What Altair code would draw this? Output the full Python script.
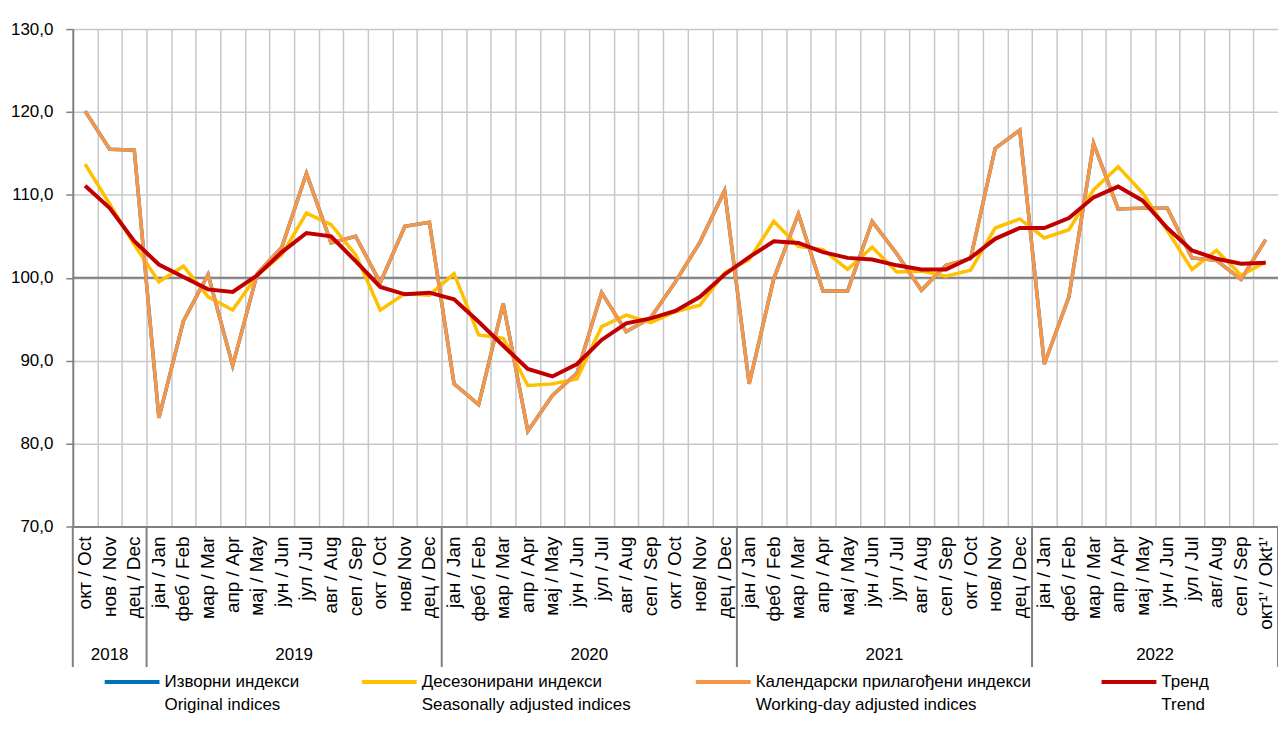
import altair as alt
import pandas as pd

# ---------------- data ----------------
months = [
    "окт / Oct", "нов / Nov", "дец / Dec",
    "јан / Jan", "феб / Feb", "мар / Mar", "апр / Apr", "мај / May", "јун / Jun",
    "јул / Jul", "авг / Aug", "сеп / Sep", "окт / Oct", "нов/ Nov", "дец / Dec",
    "јан / Jan", "феб / Feb", "мар / Mar", "апр / Apr", "мај / May", "јун / Jun",
    "јул / Jul", "авг / Aug", "сеп / Sep", "окт / Oct", "нов/ Nov", "дец / Dec",
    "јан / Jan", "феб / Feb", "мар / Mar", "апр / Apr", "мај / May", "јун / Jun",
    "јул / Jul", "авг / Aug", "сеп / Sep", "окт / Oct", "нов/ Nov", "дец / Dec",
    "јан / Jan", "феб / Feb", "мар / Mar", "апр / Apr", "мај / May", "јун / Jun",
    "јул / Jul", "авг/ Aug", "сеп / Sep", "окт¹’ / Okt¹’",
]
years = ["2018", "2019", "2020", "2021", "2022"]
year_months = [3, 12, 12, 12, 10]

working = [120.1, 115.5, 115.4, 83.1, 94.8, 100.4, 89.4, 100.5, 103.7, 112.6, 104.2, 105.0,
           99.4, 106.2, 106.7, 87.2, 84.7, 96.9, 81.5, 85.8, 88.5, 98.2, 93.5, 95.2,
           99.5, 104.3, 110.5, 87.2, 99.9, 107.7, 98.4, 98.4, 106.8, 102.9, 98.5, 101.5,
           102.3, 115.6, 117.8, 89.6, 97.7, 116.2, 108.3, 108.4, 108.4, 102.4, 102.1, 99.8,
           104.6]
original = list(working)
seasonal = [113.7, 108.9, 104.0, 99.5, 101.4, 97.7, 96.1, 100.3, 102.8, 107.8, 106.4, 102.8,
            96.1, 98.1, 97.9, 100.5, 93.1, 92.7, 87.0, 87.2, 87.8, 94.1, 95.5, 94.6,
            95.9, 96.7, 100.6, 102.2, 106.8, 103.8, 103.4, 101.0, 103.7, 100.7, 100.8, 100.2,
            100.9, 106.0, 107.1, 104.8, 105.8, 110.6, 113.4, 110.2, 105.7, 101.0, 103.3, 100.3,
            101.9]
trend = [111.1, 108.4, 104.4, 101.6, 100.1, 98.6, 98.3, 100.3, 103.1, 105.4, 105.0, 102.0,
         98.9, 98.0, 98.2, 97.4, 94.7, 91.8, 89.0, 88.1, 89.6, 92.5, 94.5, 95.1,
         96.0, 97.7, 100.4, 102.5, 104.4, 104.2, 103.1, 102.4, 102.2, 101.5, 101.0, 101.0,
         102.4, 104.7, 106.0, 106.0, 107.2, 109.7, 111.0, 109.3, 106.0, 103.3, 102.3, 101.7,
         101.8]

series_sr = ["Изворни индекси", "Десезонирани индекси", "Календарски прилагођени индекси", "Тренд"]
series_en = ["Original indices", "Seasonally adjusted indices", "Working-day adjusted indices", "Trend"]
series_vals = [original, seasonal, working, trend]
colors = ["#0070C0", "#FFC000", "#F79646", "#C00000"]
widths = [3.5, 3.5, 3.5, 4]

# ---------------- layout ----------------
FONT = "Liberation Sans, Arial, sans-serif"
FS = 17
W, H = 1209, 499
n = len(months)
idx = list(range(n))

xscale = alt.Scale(domain=[-0.5, n - 0.5], nice=False, zero=False)
yscale = alt.Scale(domain=[70, 130], nice=False, zero=False)

x_axis = alt.Axis(values=[i + 0.5 for i in range(n - 1)], grid=True, gridColor="#C8C8C8",
                  gridWidth=1.5, labels=False, ticks=False, title=None,
                  domainColor="#808080", domainWidth=2)
y_axis = alt.Axis(values=[70, 80, 90, 100, 110, 120, 130], grid=True, gridColor="#C8C8C8",
                  gridWidth=1.5, title=None, tickSize=7, tickColor="#808080", tickWidth=1.5,
                  labelPadding=13, labelFont=FONT, labelFontSize=FS, labelColor="black",
                  labelExpr="replace(format(datum.value, '.1f'), '.', ',')",
                  domainColor="#808080", domainWidth=2)

layers = []

# reference line at 100
ref_df = pd.DataFrame({"ref": [100]})
layers.append(alt.Chart(ref_df).mark_rule(color="#7F7F7F", strokeWidth=2).encode(
    y=alt.Y("ref:Q", scale=yscale, axis=y_axis)))

# series lines
for name, vals, col, w in zip(series_sr, series_vals, colors, widths):
    df = pd.DataFrame({"i": idx, "v": vals, "s": name})
    layers.append(alt.Chart(df).mark_line(color=col, strokeWidth=w).encode(
        x=alt.X("i:Q", scale=xscale, axis=x_axis),
        y=alt.Y("v:Q", scale=yscale, axis=y_axis)))

# month labels
mdf = pd.DataFrame({"i": idx, "label": months})
layers.append(alt.Chart(mdf).mark_text(angle=270, align="right", baseline="middle",
                                       font=FONT, fontSize=19, color="black").encode(
    x=alt.X("i:Q", scale=xscale, axis=x_axis),
    y=alt.value(H + 10), text="label:N"))

# year separators and labels
bounds = [-0.5]
centers = []
for m in year_months:
    start = bounds[-1]
    bounds.append(start + m)
    centers.append(start + m / 2)
bdf = pd.DataFrame({"b": bounds})
layers.append(alt.Chart(bdf).mark_rule(color="#808080", strokeWidth=2).encode(
    x=alt.X("b:Q", scale=xscale, axis=x_axis), y=alt.value(H), y2=alt.value(640)))
ydf = pd.DataFrame({"c": centers, "year": years})
layers.append(alt.Chart(ydf).mark_text(font=FONT, fontSize=FS, color="black", baseline="middle").encode(
    x=alt.X("c:Q", scale=xscale, axis=x_axis), y=alt.value(628), text="year:N"))

# legend (custom)
leg_x = [32, 290, 625, 1032]
row1, row2 = 655, 678
for k in range(4):
    ldf = pd.DataFrame({"s": [series_sr[k]], "e": [series_en[k]]})
    base = alt.Chart(ldf)
    layers.append(base.mark_rule(color=colors[k], strokeWidth=4).encode(
        x=alt.value(leg_x[k]), x2=alt.value(leg_x[k] + 55), y=alt.value(row1)))
    layers.append(base.mark_text(align="left", baseline="middle", font=FONT, fontSize=FS,
                                 color="black").encode(
        x=alt.value(leg_x[k] + 60), y=alt.value(row1), text="s:N"))
    layers.append(base.mark_text(align="left", baseline="middle", font=FONT, fontSize=FS,
                                 color="black").encode(
        x=alt.value(leg_x[k] + 60), y=alt.value(row2), text="e:N"))

chart = alt.layer(*layers).properties(
    width=W, height=H,
    padding={"left": 65, "top": 20, "right": 0, "bottom": 190},
    autosize=alt.AutoSizeParams(type="none"),
).configure_view(fill="#F2F2F2", stroke="#A0A0A0", strokeWidth=1.5).configure(background="white")

chart.save("out.html", embed_options={"renderer": "svg", "actions": False})
